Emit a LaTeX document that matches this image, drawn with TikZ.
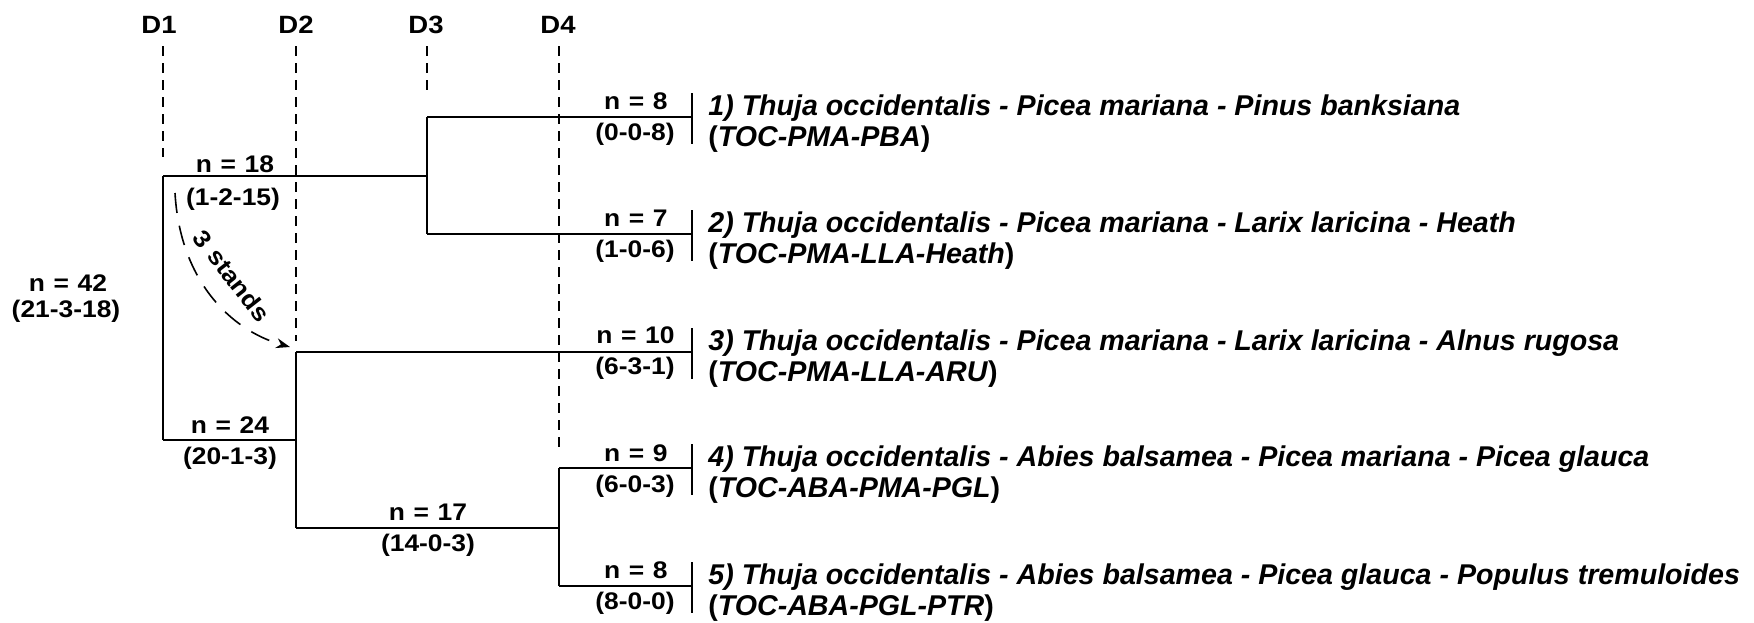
\documentclass[tikz,border=0pt]{standalone}
\usepackage{fontspec}
\setmainfont{Liberation Sans}
\newfontfamily\widefont[FakeStretch=1.1]{Liberation Sans}
\newcommand\cntfont{\widefont\bfseries\fontsize{12}{14}\selectfont\spaceskip=0.36em\relax}
\usetikzlibrary{arrows.meta,calc}
\begin{document}
\begin{tikzpicture}[x=0.5pt,y=-0.5pt,
  edge/.style={line width=0.8pt,black},
  guide/.style={line width=0.6pt,dash pattern=on 5pt off 3.5pt},
  dlab/.style={font=\widefont\bfseries\fontsize{12.5}{14}\selectfont,inner sep=0pt},
  cnt/.style={font=\cntfont,inner sep=0pt},
  leafn/.style={cnt,anchor=base east},
  desc/.style={font=\bfseries\fontsize{14.3}{17}\selectfont,inner sep=0pt,anchor=base west},
]
\useasboundingbox (0,0) rectangle (1754,622);

% depth labels and guides
\node[dlab] (D1) at (159,25) {D1};
\node[dlab] (D2) at (296,25) {D2};
\node[dlab] (D3) at (426,25) {D3};
\node[dlab] (D4) at (558,25) {D4};
\coordinate (g1) at (163,157);
\coordinate (g2) at (296,341);
\coordinate (g3) at (427,97);
\coordinate (g4) at (559,448);
\draw[guide] (D1.south -| g1) ++(0,12) -- (g1);
\draw[guide] (D2.south -| g2) ++(0,12) -- (g2);
\draw[guide] (D3.south -| g3) ++(0,12) -- (g3);
\draw[guide] (D4.south -| g4) ++(0,12) -- (g4);

% tree junctions
\coordinate (r18) at (163,176);
\coordinate (r24) at (163,440);
\coordinate (a18) at (427,176);
\coordinate (a1) at (427,117);
\coordinate (a2) at (427,234);
\coordinate (a24) at (296,440);
\coordinate (a3) at (296,352);
\coordinate (a17) at (296,528);
\coordinate (c17) at (559,528);
\coordinate (c4) at (559,468);
\coordinate (c5) at (559,586);
\coordinate (e1) at (692,117);
\coordinate (e2) at (692,234);
\coordinate (e3) at (692,352);
\coordinate (e4) at (692,468);
\coordinate (e5) at (692,586);

\draw[edge] (r18) -- (r24);
\draw[edge] (r18) -- (a18);
\draw[edge] (a1) -- (a2);
\draw[edge] (a1) -- (e1);
\draw[edge] (a2) -- (e2);
\draw[edge] (r24) -- (a24);
\draw[edge] (a3) -- (a17);
\draw[edge] (a3) -- (e3);
\draw[edge] (a17) -- (c17);
\draw[edge] (c4) -- (c5);
\draw[edge] (c4) -- (e4);
\draw[edge] (c5) -- (e5);

% leaf bars
\foreach \e in {e1,e2,e3,e4,e5}{
  \draw[edge] ($(\e)+(0,-24)$) -- ($(\e)+(0,27)$);
}

% internal counts
\node[cnt] (n42) at (68,283) {n = 42};
\node[cnt] (p42) at (66,311) {(21-3-18)};
\node[cnt,anchor=base] (n18) at (235,172) {n = 18};
\node[cnt,anchor=base] (p18) at (233,205) {(1-2-15)};
\node[cnt,anchor=base] (n24) at (230,433) {n = 24};
\node[cnt,anchor=base] (p24) at (230,464) {(20-1-3)};
\node[cnt,anchor=base] (n17) at (428,520) {n = 17};
\node[cnt,anchor=base] (p17) at (428,551) {(14-0-3)};

% leaf counts
\node[leafn] (n1) at (668,109) {n = 8};
\node[leafn] (p1) at (675,140) {(0-0-8)};
\node[leafn] (n2) at (668,226) {n = 7};
\node[leafn] (p2) at (675,257) {(1-0-6)};
\node[leafn] (n3) at (675,343) {n = 10};
\node[leafn] (p3) at (675,374) {(6-3-1)};
\node[leafn] (n4) at (668,461) {n = 9};
\node[leafn] (p4) at (675,492) {(6-0-3)};
\node[leafn] (n5) at (668,578) {n = 8};
\node[leafn] (p5) at (675,609) {(8-0-0)};

% descriptions
\node[desc] (t1a) at (708,115) {\itshape 1) Thuja occidentalis - Picea mariana - Pinus banksiana};
\node[desc] (t1b) at (708,146) {(\textit{TOC-PMA-PBA})};
\node[desc] (t2a) at (708,232) {\itshape 2) Thuja occidentalis - Picea mariana - Larix laricina - Heath};
\node[desc] (t2b) at (708,263) {(\textit{TOC-PMA-LLA-Heath})};
\node[desc] (t3a) at (708,350) {\itshape 3) Thuja occidentalis - Picea mariana - Larix laricina - Alnus rugosa};
\node[desc] (t3b) at (708,381) {(\textit{TOC-PMA-LLA-ARU})};
\node[desc] (t4a) at (708,466) {\itshape 4) Thuja occidentalis - Abies balsamea - Picea mariana - Picea glauca};
\node[desc] (t4b) at (708,497) {(\textit{TOC-ABA-PMA-PGL})};
\node[desc] (t5a) at (708,584) {\itshape 5) Thuja occidentalis - Abies balsamea - Picea glauca - Populus tremuloides};
\node[desc] (t5b) at (708,615) {(\textit{TOC-ABA-PGL-PTR})};

% 3 stands arrow
\coordinate (s0) at (175,193);
\coordinate (s1) at (290,347);
\draw[line width=0.8pt,dash pattern=on 10pt off 6.5pt,-{Stealth[length=7pt,width=5pt]}]
  (s0) .. controls (180,280) and (230,330) .. (s1);
\node[cnt,rotate=-52] (st) at (232,276) {3 stands};
\end{tikzpicture}
\end{document}
